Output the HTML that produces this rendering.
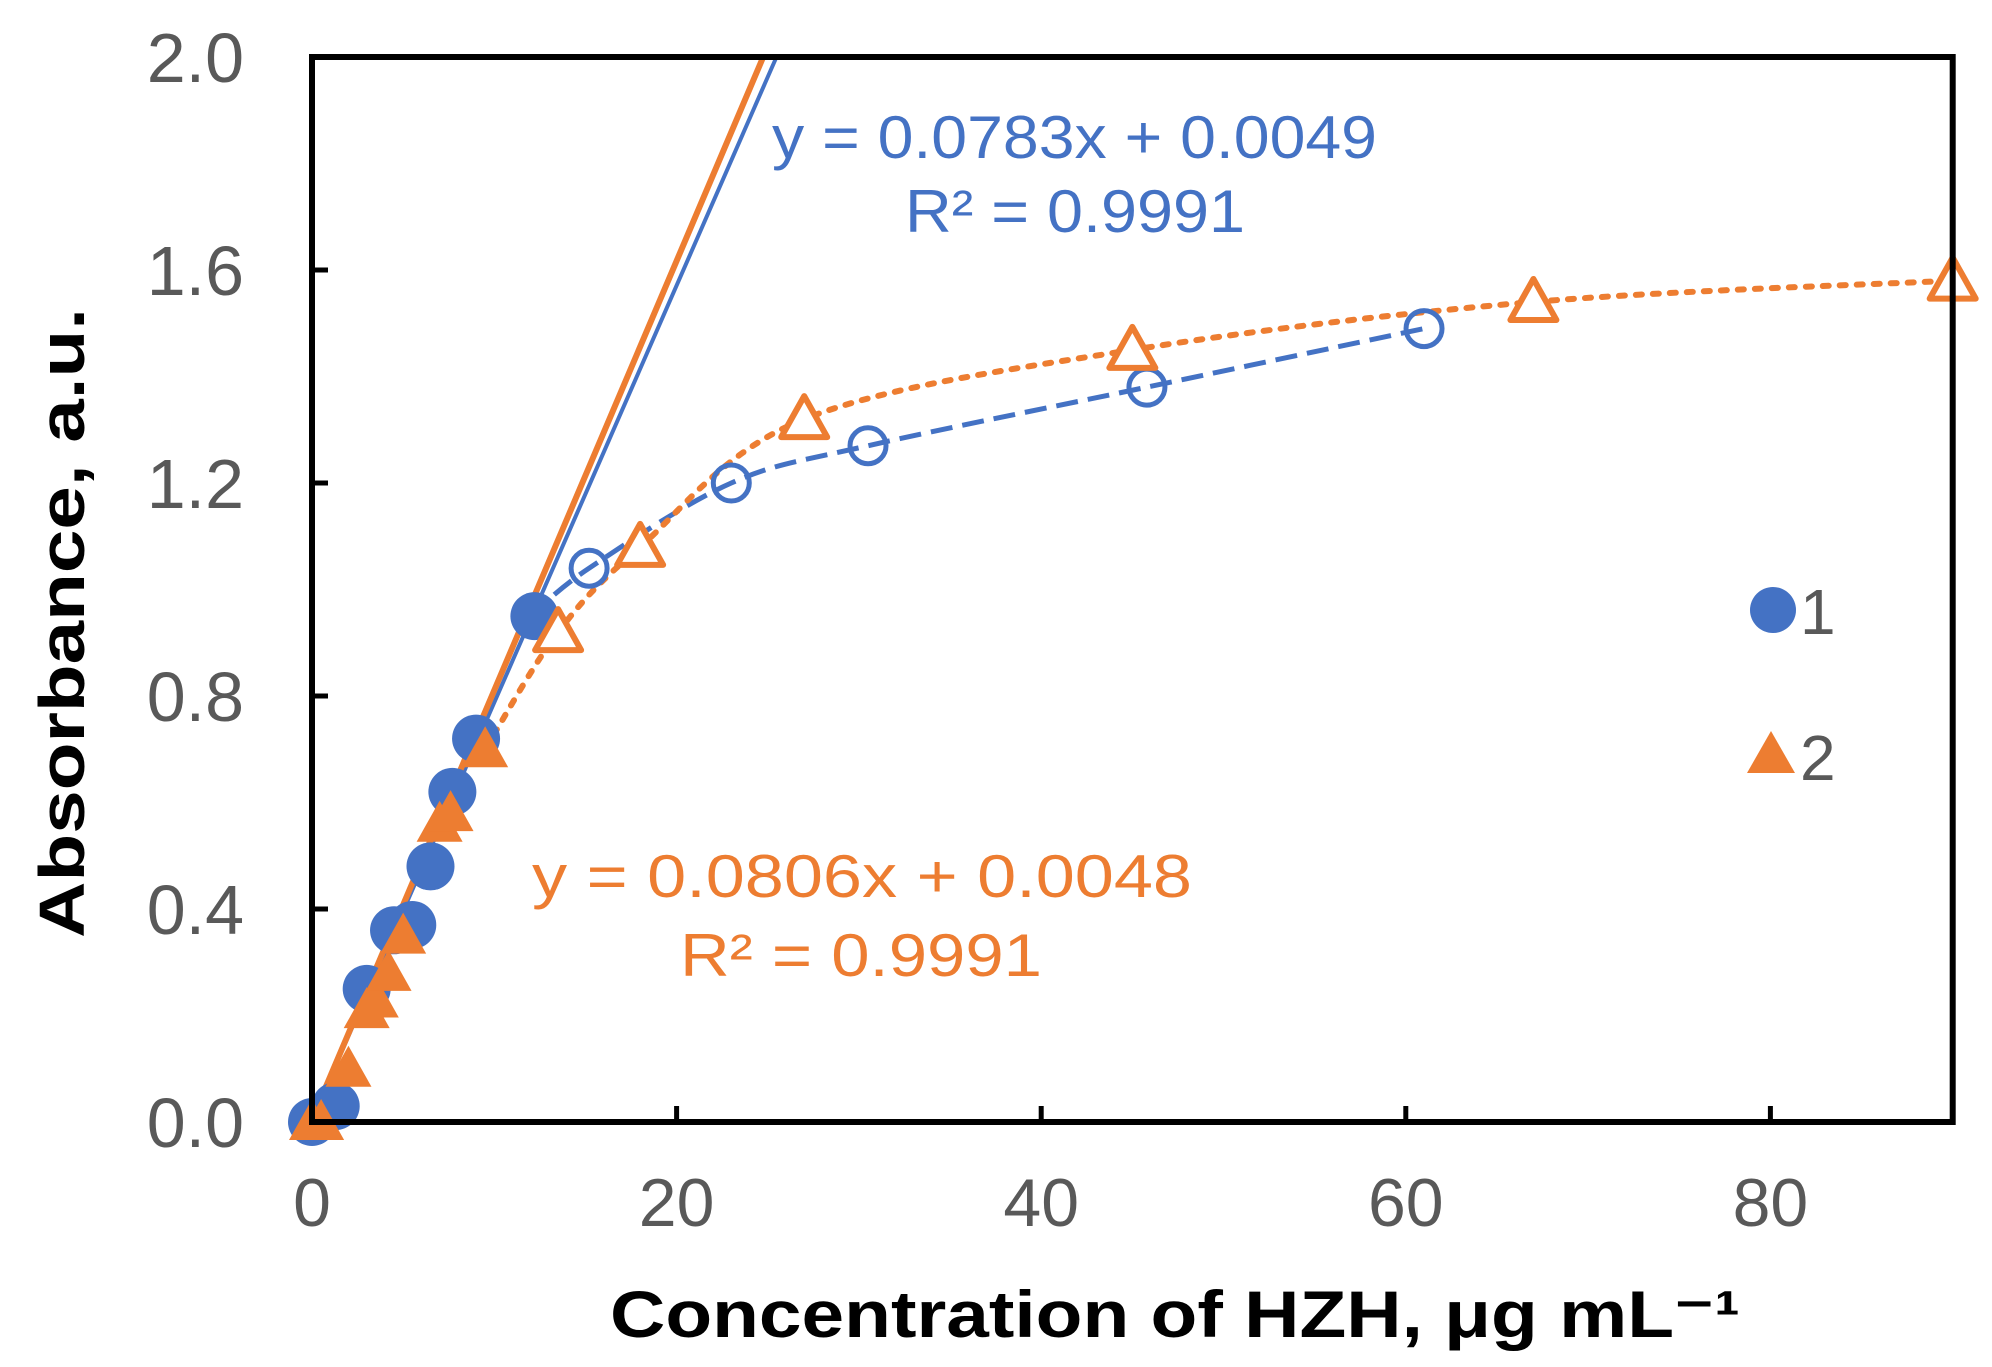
<!DOCTYPE html>
<html><head><meta charset="utf-8"><style>
html,body{margin:0;padding:0;background:#fff;}
svg{display:block;}
</style></head><body>
<svg id="s" width="1992" height="1367" viewBox="0 0 1992 1367" xmlns="http://www.w3.org/2000/svg" font-family="Liberation Sans, Arial, sans-serif"></svg>
<script>
const s=document.getElementById('s');
const X=x=>312+18.23*x, Y=y=>1122-532.5*y;
let h='';
const B='#4472C4',O='#ED7D31';
h+=`<line x1="${X(0)}" y1="${Y(0.0049)}" x2="${X(25.48)}" y2="${Y(2)}" stroke="${B}" stroke-width="4"/>`;
h+=`<line x1="${X(0)}" y1="${Y(0.0048)}" x2="${X(24.75)}" y2="${Y(2)}" stroke="${O}" stroke-width="6"/>`;
function cr(pts){let d=`M${X(pts[0][0])},${Y(pts[0][1])}`;
 const P=pts.map(p=>[X(p[0]),Y(p[1])]);
 for(let i=0;i<P.length-1;i++){const p0=P[i-1]||P[i],p1=P[i],p2=P[i+1],p3=P[i+2]||P[i+1];
 d+=`C${p1[0]+(p2[0]-p0[0])/6},${p1[1]+(p2[1]-p0[1])/6} ${p2[0]-(p3[0]-p1[0])/6},${p2[1]-(p3[1]-p1[1])/6} ${p2[0]},${p2[1]}`;}
 return d;}
h+=`<path d="${cr([[12,0.95],[15.2,1.04],[23,1.2],[30.5,1.27],[45.8,1.38],[61,1.49]])}" fill="none" stroke="${B}" stroke-width="5" stroke-dasharray="22,10"/>`;
h+=`<path d="${cr([[9.5,0.7],[13.5,0.92],[18,1.08],[27,1.32],[45,1.45],[67,1.54],[90,1.58]])}" fill="none" stroke="${O}" stroke-width="6" stroke-dasharray="6,11" stroke-linecap="round"/>`;
const tri=(x,y,fill)=>{const cx=X(x),cy=Y(y);return `<polygon points="${cx},${cy-23} ${cx-23},${cy+18} ${cx+23},${cy+18}" fill="${fill?O:'#fff'}" stroke="${O}" stroke-width="${fill?0:6}" stroke-linejoin="round"/>`;};
const cir=(x,y,fill)=>`<circle cx="${X(x)}" cy="${Y(y)}" r="${fill?24:18}" fill="${fill?B:'none'}" stroke="${B}" stroke-width="${fill?0:5}"/>`;
[[0,0],[1.3,0.03],[3,0.25],[4.5,0.36],[5.5,0.37],[6.5,0.48],[7.7,0.62],[9,0.72],[12.2,0.95]].forEach(p=>h+=cir(p[0],p[1],1));
[[15.2,1.04],[23,1.2],[30.5,1.27],[45.8,1.38],[61,1.49]].forEach(p=>h+=cir(p[0],p[1],0));
[[0,0],[0.5,0],[2,0.1],[3,0.21],[3.5,0.23],[4.2,0.28],[5,0.35],[7,0.56],[7.6,0.58],[9.5,0.7]].forEach(p=>h+=tri(p[0],p[1],1));
[[13.5,0.92],[18,1.08],[27,1.32],[45,1.45],[67,1.54],[90,1.58]].forEach(p=>h+=tri(p[0],p[1],0));
h+=`<rect x="${X(0)}" y="${Y(2)}" width="${X(90)-X(0)}" height="${Y(0)-Y(2)}" fill="none" stroke="#000" stroke-width="6"/>`;
for(let v=20;v<=80;v+=20)h+=`<line x1="${X(v)}" y1="${Y(0)}" x2="${X(v)}" y2="${Y(0)-16}" stroke="#000" stroke-width="5"/>`;
for(let v=0.4;v<2;v+=0.4)h+=`<line x1="${X(0)}" y1="${Y(v)}" x2="${X(0)+16}" y2="${Y(v)}" stroke="#000" stroke-width="5"/>`;
const G='#595959';
for(let v=0;v<=80;v+=20)h+=`<text x="${X(v)}" y="1226" font-size="68" fill="${G}" text-anchor="middle">${v}</text>`;
['0.0','0.4','0.8','1.2','1.6','2.0'].forEach((t,i)=>h+=`<text x="244" y="${Y(i*0.4)+25}" font-size="70" fill="${G}" text-anchor="end">${t}</text>`);
h+=`<text x="772" y="158" font-size="60" fill="${B}" textLength="605" lengthAdjust="spacingAndGlyphs">y = 0.0783x + 0.0049</text>`;
h+=`<text x="905" y="232" font-size="60" fill="${B}" textLength="340" lengthAdjust="spacingAndGlyphs">R² = 0.9991</text>`;
h+=`<text x="532" y="897" font-size="60" fill="${O}" textLength="660" lengthAdjust="spacingAndGlyphs">y = 0.0806x + 0.0048</text>`;
h+=`<text x="680" y="976" font-size="60" fill="${O}" textLength="362" lengthAdjust="spacingAndGlyphs">R² = 0.9991</text>`;
h+=`<circle cx="1773" cy="610" r="23" fill="${B}"/><text x="1800" y="634" font-size="64" fill="${G}">1</text>`;
h+=`<polygon points="1771,731 1747,773 1795,773" fill="${O}"/><text x="1800" y="780" font-size="64" fill="${G}">2</text>`;
h+=`<text x="1175" y="1337" font-size="66" font-weight="bold" fill="#000" text-anchor="middle" textLength="1130" lengthAdjust="spacingAndGlyphs">Concentration of HZH, μg mL⁻¹</text>`;
h+=`<text transform="translate(84,623) rotate(-90)" font-size="64" font-weight="bold" fill="#000" text-anchor="middle" textLength="630" lengthAdjust="spacingAndGlyphs">Absorbance, a.u.</text>`;
s.innerHTML=h;
</script>
</body></html>
